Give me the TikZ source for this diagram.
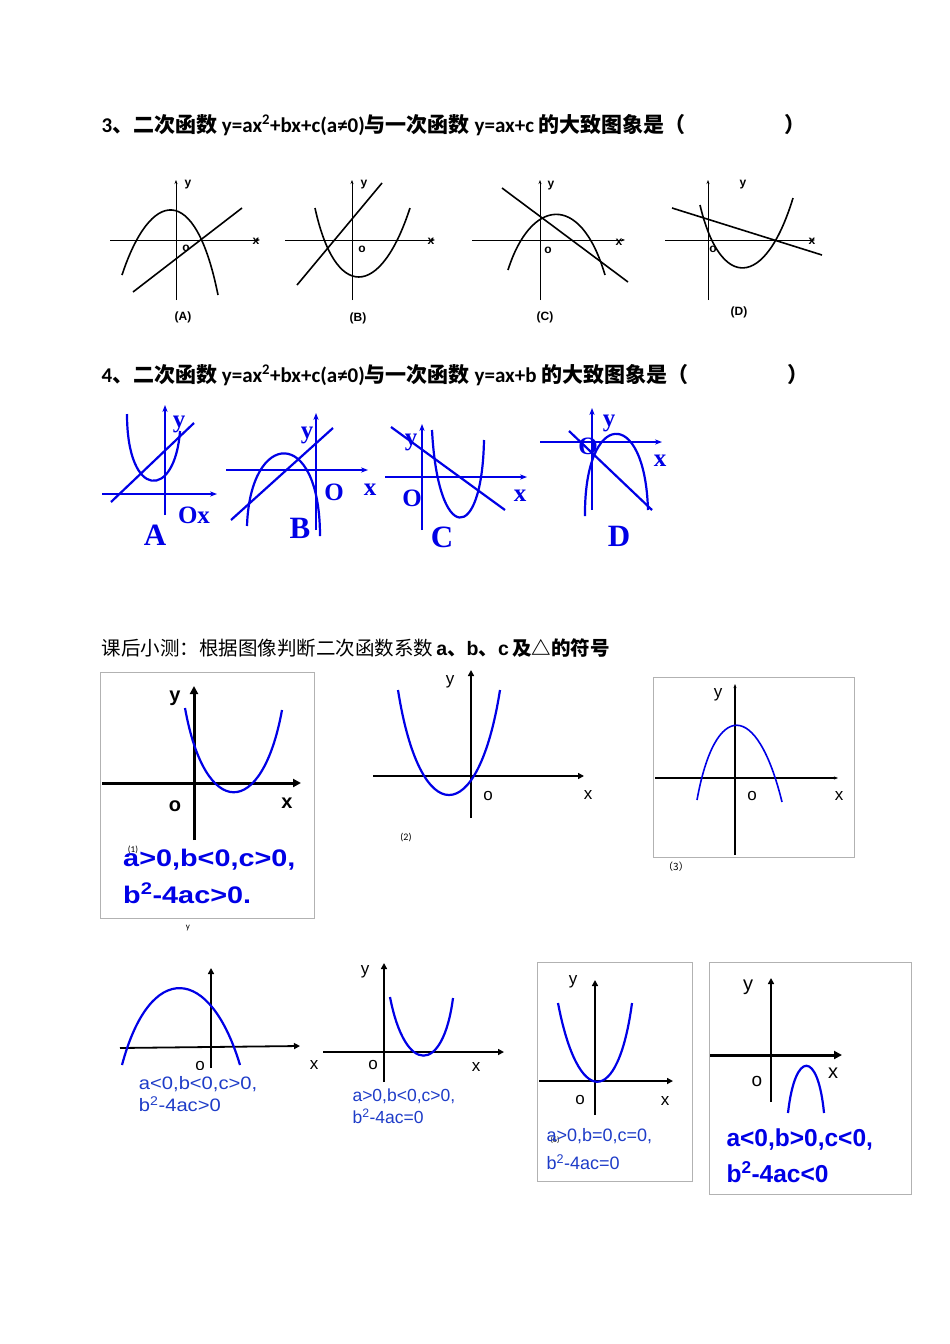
\documentclass[tikz,border=0pt]{standalone}
\usepackage{fontspec}
\setmainfont{Carlito}
\setsansfont{Liberation Sans}
\newfontfamily\cjk{Noto Sans CJK SC}
\newfontfamily\serf{Liberation Serif}
\usetikzlibrary{arrows.meta}
\definecolor{qb}{RGB}{0,0,230}
\definecolor{tb}{RGB}{30,60,200}
\begin{document}
\begin{tikzpicture}[x=1pt,y=-1pt,
 ax/.style={line width=0.8pt,-{Stealth[length=4pt]}},
 cv/.style={line width=1.6pt},
 bax/.style={qb,line width=2.2pt,-{Stealth[length=7pt]}},
 bcv/.style={qb,line width=2.2pt},
 bl/.style={qb,font=\serf\bfseries\fontsize{25}{25}\selectfont},
 bL/.style={qb,font=\serf\bfseries\fontsize{31}{31}\selectfont},
 kax/.style={line width=3pt,-{Triangle[length=8pt,width=8pt]}},
 kax2/.style={line width=1.8pt,-{Triangle[length=6pt,width=6pt]}},
 pc/.style={qb,line width=2.2pt},
 box/.style={draw=black!30,line width=0.7pt},
 lab/.style={font=\sffamily\fontsize{17}{17}\selectfont},
 ans/.style={tb,anchor=west,font=\sffamily\fontsize{18}{18}\selectfont},
 ansb/.style={qb,anchor=west,font=\sffamily\bfseries\fontsize{23}{23}\selectfont},
 ttl/.style={anchor=west,font=\bfseries\fontsize{21}{21}\selectfont}]
\fill[white] (0,0) rectangle (950,1344);
% Q3
\node[ttl] (q3) at (98,125) {3{\cjk 、二次函数} y=ax\textsuperscript{2}+bx+c(a≠0){\cjk 与一次函数} y=ax+c {\cjk 的大致图象是（\hspace{4.7em}）}};
\foreach \ox/\oy/\xa/\xb/\nm in {176/240/110/260/A,352/240/285/435/B,540/240/472/625/C,708/240/665/815/D}{
 \coordinate (xs\nm) at (\xa,\oy); \coordinate (xe\nm) at (\xb,\oy);
 \coordinate (ys\nm) at (\ox,300); \coordinate (ye\nm) at (\ox,180);
 \draw[ax] (xs\nm)--(xe\nm); \draw[ax] (ys\nm)--(ye\nm);}
\draw[cv] (122,275) .. controls (150,190) and (195,180) .. (218,295);
\draw[cv] (133,292)--(242,208);
\draw[cv] (315,208) .. controls (335,300) and (380,300) .. (410,208);
\draw[cv] (297,285)--(382,183);
\draw[cv] (508,270) .. controls (530,200) and (580,190) .. (605,275);
\draw[cv] (502,188)--(628,282);
\draw[cv] (700,205) .. controls (720,290) and (765,290) .. (793,198);
\draw[cv] (672,208)--(822,255);
\foreach \px/\py/\t in {188/185/y,256/241/x,186/248/o,183/317/(A),
 364/185/y,431/241/x,362/249/o,358/318/(B),
 551/186/y,619/242/x,548/250/o,545/317/(C),
 743/185/y,812/241/x,713/249/o,739/312/(D)}
 \node[font=\sffamily\bfseries\fontsize{12}{12}\selectfont] (l\px) at (\px,\py) {\t};
% Q4
\node[ttl] (q4) at (98,375) {4{\cjk 、二次函数} y=ax\textsuperscript{2}+bx+c(a≠0){\cjk 与一次函数} y=ax+b {\cjk 的大致图象是（\hspace{4.7em}）}};
\draw[bax] (102,494)--(217,494); \draw[bax] (165,515)--(165,405);
\draw[bcv] (127,414) .. controls (127,500) and (175,500) .. (180,431);
\draw[bcv] (111,502)--(194,423);
\node[bl] (ay) at (179,424) {y}; \node[bl] (aox) at (194,515) {Ox}; \node[bL] (aA) at (155,535) {A};
\draw[bax] (226,470)--(368,470); \draw[bax] (316,530)--(316,413);
\draw[bcv] (247,526) .. controls (250,430) and (320,425) .. (320,536);
\draw[bcv] (231,520)--(333,428);
\node[bl] (by) at (307,435) {y}; \node[bl] (bo) at (334,492) {O}; \node[bl] (bx) at (370,490) {x}; \node[bL] (bB) at (300,528) {B};
\draw[bax] (385,477)--(527,477); \draw[bax] (422,530)--(422,424);
\draw[bcv] (432,430) .. controls (438,545) and (482,545) .. (484,440);
\draw[bcv] (391,427)--(505,510);
\node[bl] (cy) at (411,442) {y}; \node[bl] (co) at (412,498) {O}; \node[bl] (cx) at (520,496) {x}; \node[bL] (cC) at (442,537) {C};
\draw[bax] (540,442)--(662,442); \draw[bax] (592,510)--(592,408);
\draw[bcv] (585,516) .. controls (584,410) and (645,405) .. (648,510);
\draw[bcv] (569,431)--(652,510);
\node[bl] (dy) at (609,423) {y}; \node[bl] (do) at (588,446) {O}; \node[bl] (dx) at (660,461) {x}; \node[bL] (dD) at (619,536) {D};
% quiz
\node[anchor=west,font=\fontsize{19.5}{19.5}\selectfont] (qz) at (98,648) {\cjk 课后小测：根据图像判断二次函数系数\,{\sffamily\bfseries a}{\bfseries 、}{\sffamily\bfseries b}{\bfseries 、}{\sffamily\bfseries c}\,{\bfseries 及△的符号}};
% 1
\draw[box] (100,672) rectangle (314,918);
\draw[kax] (102,783)--(301,783); \draw[kax] (194,840)--(194,686);
\draw[pc] (185,708) .. controls (205,820) and (262,820) .. (282,710);
\node[lab,font=\sffamily\bfseries\fontsize{20}{20}\selectfont] (y1) at (175,698) {y};
\node[lab,font=\sffamily\bfseries\fontsize{20}{20}\selectfont] (o1) at (175,806) {o};
\node[lab,font=\sffamily\bfseries\fontsize{20}{20}\selectfont] (x1) at (287,803) {x};
\node[font=\fontsize{9}{9}\selectfont] (n1) at (133,850) {(1)};
\node[ansb,xscale=1.2,font=\sffamily\bfseries\fontsize{24}{24}\selectfont] (a1) at (119,860) {a>0,b<0,c>0,};
\node[ansb,xscale=1.2,font=\sffamily\bfseries\fontsize{24}{24}\selectfont] (b1) at (119,893) {b\textsuperscript{2}-4ac>0.};
\node[font=\fontsize{9}{9}\selectfont] (ys) at (188,928) {y};
% 2
\draw[kax2] (373,776)--(584,776); \draw[kax2] (471,818)--(471,670);
\draw[pc] (398,690) .. controls (420,830) and (478,830) .. (500,690);
\node[lab] (y2) at (450,682) {y}; \node[lab] (o2) at (488,796) {o}; \node[lab] (x2) at (588,795) {x};
\node[font=\fontsize{10}{10}\selectfont] (n2) at (406,838) {(2)};
% 3
\draw[box] (653,677) rectangle (854,857);
\draw[ax,line width=1.3pt] (655,778)--(838,778); \draw[ax,line width=1.3pt] (735,855)--(735,684);
\draw[pc,line width=1.6pt] (697,800) .. controls (715,700) and (757,700) .. (782,802);
\node[lab] (y3) at (718,695) {y}; \node[lab] (o3) at (752,796) {o}; \node[lab] (x3) at (839,796) {x};
\node[font=\cjk\fontsize{10}{10}\selectfont] (n3) at (676,867) {（3）};
% 4
\draw[kax2] (120,1048)--(300,1046); \draw[kax2] (211,1068)--(211,968);
\draw[pc] (122,1065) .. controls (150,960) and (210,965) .. (240,1065);
\node[lab] (o4) at (200,1066) {o};
\fill[white] (180,1070) rectangle (230,1080);
\node[ans,xscale=1.12] (a4) at (135,1084) {a<0,b<0,c>0,};
\node[ans,xscale=1.12] (b4) at (135,1104) {b\textsuperscript{2}-4ac>0};
% 5
\draw[kax2] (323,1052)--(504,1052); \draw[kax2] (384,1082)--(384,963);
\draw[pc] (390,997) .. controls (405,1075) and (443,1075) .. (453,998);
\node[lab] (y5) at (365,972) {y}; \node[lab] (xl5) at (314,1065) {x}; \node[lab] (o5) at (373,1065) {o}; \node[lab] (x5) at (476,1067) {x};
\node[ans,font=\sffamily\fontsize{17.5}{17.5}\selectfont] (a5) at (349,1096) {a>0,b<0,c>0,};
\node[ans,font=\sffamily\fontsize{17.5}{17.5}\selectfont] (b5) at (349,1116) {b\textsuperscript{2}-4ac=0};
% 6
\draw[box] (537,962) rectangle (692,1181);
\draw[kax2] (539,1081)--(673,1081); \draw[kax2] (595,1115)--(595,980);
\draw[pc] (558,1003) .. controls (578,1108) and (618,1108) .. (632,1003);
\node[lab] (y6) at (573,982) {y}; \node[lab] (o6) at (580,1100) {o}; \node[lab] (x6) at (665,1101) {x};
\node[font=\fontsize{8}{8}\selectfont] (n6) at (555,1140) {(6)};
\node[ans] (a6) at (543,1136) {a>0,b=0,c=0,};
\node[ans] (b6) at (543,1162) {b\textsuperscript{2}-4ac=0};
% 7
\draw[box] (709,962) rectangle (911,1194);
\draw[kax] (710,1055)--(842,1055); \draw[kax2] (771,1102)--(771,978);
\draw[pc] (788,1113) .. controls (795,1050) and (818,1050) .. (824,1113);
\node[lab,font=\sffamily\fontsize{20}{20}\selectfont] (y7) at (748,987) {y}; \node[lab,font=\sffamily\fontsize{19}{19}\selectfont] (o7) at (757,1081) {o}; \node[lab,font=\sffamily\fontsize{20}{20}\selectfont] (x7) at (833,1073) {x};
\node[ansb,font=\sffamily\bfseries\fontsize{24.5}{24.5}\selectfont] (a7) at (723,1140) {a<0,b>0,c<0,};
\node[ansb,font=\sffamily\bfseries\fontsize{24.5}{24.5}\selectfont] (b7) at (723,1172) {b\textsuperscript{2}-4ac<0};
\end{tikzpicture}
\end{document}
